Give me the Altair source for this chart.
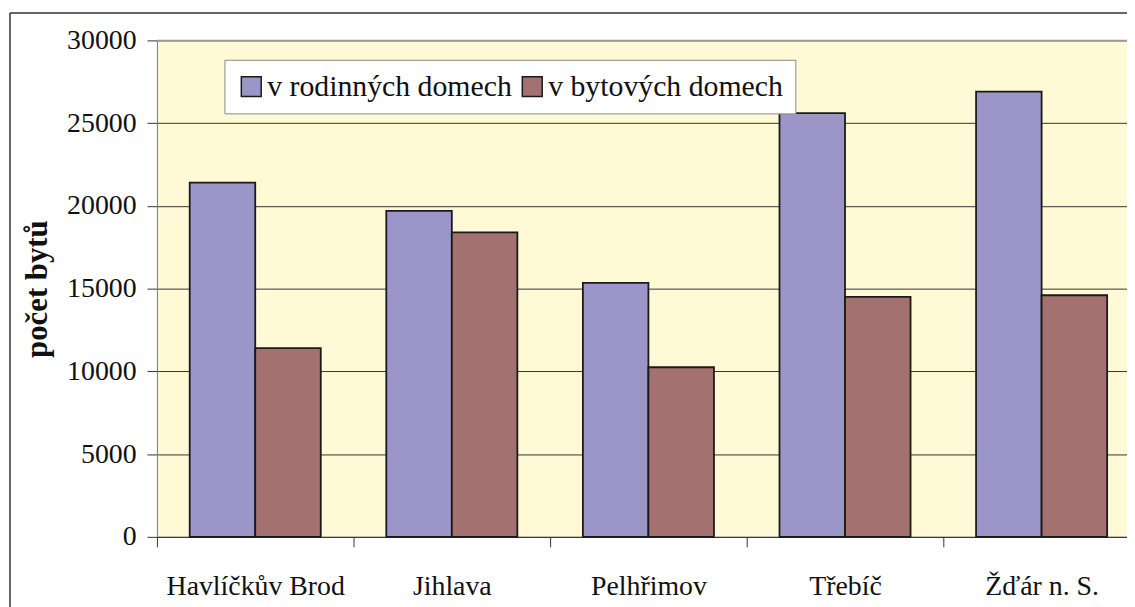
import altair as alt
import pandas as pd

categories = ["Havlíčkův Brod", "Jihlava", "Pelhřimov", "Třebíč", "Žďár n. S."]
series = ["v rodinných domech", "v bytových domech"]
rodinne = [21400, 19700, 15350, 25600, 26900]
bytove = [11400, 18400, 10250, 14500, 14600]
colors = ["#9B95C8", "#A47171"]
y_ticks = [0, 5000, 10000, 15000, 20000, 25000, 30000]

rows = []
for c, a, b in zip(categories, rodinne, bytove):
    rows.append({"okres": c, "typ": series[0], "pocet": a})
    rows.append({"okres": c, "typ": series[1], "pocet": b})
df = pd.DataFrame(rows)

FONT = "Liberation Serif"

bars = alt.Chart(df).mark_bar(stroke="#1a1a1a", strokeWidth=1.8).encode(
    x=alt.X(
        "okres:N",
        sort=categories,
        scale=alt.Scale(range=[0, 990], paddingInner=0, paddingOuter=0),
        axis=alt.Axis(
            title=None, tickBand="extent", labelAngle=0, labelFont=FONT,
            labelFontSize=28, labelColor="#111", labelBaseline="alphabetic",
            labelPadding=48, tickSize=10, tickColor="#333", domainColor="#333",
            labelLimit=400, labelOverlap=False, grid=False,
        ),
    ),
    xOffset=alt.XOffset("typ:N", sort=series, scale=alt.Scale(paddingInner=0, paddingOuter=0.5)),
    y=alt.Y(
        "pocet:Q",
        scale=alt.Scale(domain=[0, 30000], nice=False),
        axis=alt.Axis(
            values=y_ticks, format="d", title="počet bytů",
            titleFont=FONT, titleFontSize=31, titleFontWeight="bold", titleColor="#111",
            titleX=-111, titleY=250, titleBaseline="alphabetic", titleAlign="center", titleAngle=270,
            labelFont=FONT, labelFontSize=28, labelColor="#111", labelPadding=11,
            tickSize=10, tickColor="#333", domainColor="#777",
            grid=True, gridColor="#333", gridWidth=1,
        ),
    ),
    color=alt.Color(
        "typ:N",
        sort=series,
        scale=alt.Scale(domain=series, range=colors),
        legend=alt.Legend(
            title=None, orient="none", legendX=68, legendY=19.5, direction="horizontal",
            fillColor="white", strokeColor="#888", padding=12, cornerRadius=0,
            labelFont=FONT, labelFontSize=30, labelColor="#111", labelLimit=400,
            symbolType="square", symbolSize=400, symbolStrokeColor="#1a1a1a",
            symbolStrokeWidth=1.5, symbolOpacity=1, columnPadding=5, labelOffset=1,
        ),
    ),
)

one = pd.DataFrame({"a": [0]})
top_rule = alt.Chart(one).mark_rule(color="#9a9a9a", strokeWidth=1.5).encode(
    x=alt.value(0), x2=alt.value(977), y=alt.value(0)
)
border_v = alt.Chart(one).mark_rule(color="#333", strokeWidth=1.5).encode(
    x=alt.value(-148), y=alt.value(-27.5), y2=alt.value(620)
)
border_h = alt.Chart(one).mark_rule(color="#333", strokeWidth=1.5).encode(
    x=alt.value(-148), x2=alt.value(1000), y=alt.value(-27.5)
)

chart = alt.layer(border_v, border_h, bars, top_rule).properties(
    width=977,
    height=500,
    autosize="none",
    padding={"left": 150, "top": 30.5, "right": 0, "bottom": 68},
    background="white",
).configure_view(fill="#FFFAD5", stroke=None).configure_legend(
    labelFont=FONT, labelFontSize=30, labelColor="#111", labelLimit=400
)

chart.save("out.html", embed_options={"renderer": "svg", "actions": False})
